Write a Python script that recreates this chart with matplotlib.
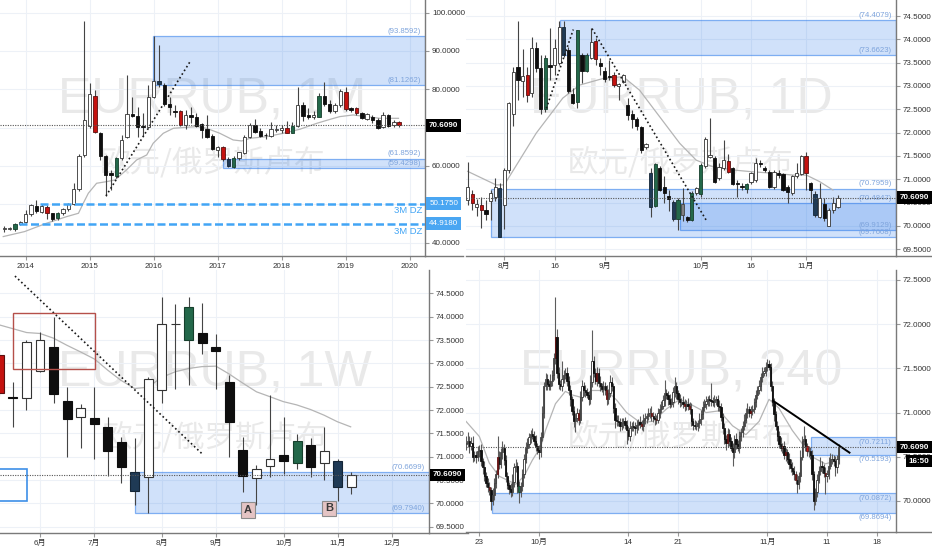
import matplotlib.pyplot as plt
from matplotlib.patches import Rectangle
from matplotlib.ticker import FormatStrFormatter

plt.rcParams['font.family'] = ['Liberation Sans', 'Noto Sans CJK SC', 'DejaVu Sans']

# ---------------- monthly (1M), k = months from Jan 2014 ----------------
m_x = list(range(-4, 71))
m_open = [43.65, 43.48, 43.48, 44.87, 45.30, 47.39, 49.48, 48.09, 49.39, 47.65,
          46.30, 47.65, 48.70, 50.09, 53.91, 62.87, 70.43, 78.35, 68.52, 62.61,
          58.09, 57.39, 62.00, 67.48, 73.57, 73.04, 70.43, 70.26, 78.09, 82.26,
          81.13, 76.17, 74.26, 74.35, 70.70, 73.30, 72.87, 70.87, 69.57, 67.83,
          64.17, 65.04, 61.74, 59.83, 62.00, 63.48, 67.48, 70.70, 69.13, 68.09,
          67.83, 69.39, 69.39, 70.00, 68.70, 70.43, 76.00, 73.30, 72.87, 72.87,
          78.35, 76.17, 74.35, 75.91, 79.39, 75.13, 75.04, 73.74, 72.35, 72.87,
          72.00, 70.26, 73.30, 70.61, 71.39]
m_high = [44.43, 44.17, 45.22, 45.56, 48.52, 50.09, 51.13, 50.09, 49.83, 47.83,
          48.00, 48.96, 50.43, 55.48, 63.13, 97.91, 81.56, 79.83, 68.96, 62.87,
          58.96, 62.43, 68.09, 83.74, 78.09, 75.48, 73.74, 81.13, 93.91, 91.57,
          81.74, 78.09, 75.91, 74.61, 74.61, 75.30, 73.74, 71.13, 73.30, 68.35,
          65.30, 65.22, 62.26, 62.61, 63.74, 68.09, 71.13, 72.17, 69.83, 68.70,
          71.57, 70.70, 70.70, 71.83, 71.57, 80.52, 76.78, 75.04, 74.35, 78.96,
          82.00, 77.22, 76.52, 80.00, 80.52, 75.48, 75.30, 74.00, 73.74, 73.30,
          72.43, 74.17, 73.48, 72.00, 71.74]
m_low = [42.87, 43.30, 43.13, 44.61, 45.04, 46.96, 47.65, 47.65, 46.09, 45.74,
         45.91, 47.22, 48.35, 49.83, 53.57, 62.43, 69.83, 68.52, 61.56, 52.17,
         53.74, 56.78, 61.56, 67.22, 72.87, 67.65, 67.83, 69.83, 77.65, 80.70,
         75.65, 73.30, 72.70, 70.43, 69.70, 71.13, 70.09, 67.22, 67.22, 64.17,
         62.43, 61.39, 59.83, 59.39, 61.56, 63.13, 67.22, 68.52, 67.48, 66.96,
         67.48, 68.96, 68.70, 68.52, 68.52, 70.09, 71.83, 72.17, 72.17, 72.70,
         75.65, 73.91, 73.91, 75.48, 74.43, 74.17, 73.30, 72.17, 72.00, 71.30,
         69.57, 69.83, 70.09, 70.26, 70.17]
m_close = [43.91, 43.74, 44.87, 45.30, 47.39, 49.83, 48.35, 49.56, 47.65, 46.17,
           47.65, 48.70, 50.09, 53.91, 62.61, 72.00, 78.70, 68.78, 62.61, 57.65,
           57.65, 62.00, 66.78, 73.57, 73.04, 70.09, 70.09, 78.09, 82.26, 81.39,
           76.17, 75.30, 74.00, 70.70, 73.30, 72.87, 70.43, 69.39, 67.65, 64.43,
           65.04, 61.74, 60.00, 62.17, 63.57, 67.48, 70.70, 68.96, 67.91, 68.00,
           69.57, 69.74, 69.83, 68.70, 70.43, 76.00, 73.04, 72.87, 73.30, 78.35,
           76.17, 74.35, 75.91, 79.57, 74.78, 74.61, 73.91, 72.52, 73.48, 72.00,
           69.83, 73.30, 70.43, 71.48, 70.609]
m_red = [4, 13, 29, 37, 49, 60, 62, 70]
m_green = [-2, 6, 17, 39, 50, 55]
m_blue = [25, 38]
m_ma_x = [-4.2, -0.2, 3.9, 7.7, 9.9, 10.8, 11.75, 13.3, 15.2, 16.75, 18.9, 20.8, 22.7, 23.9,
          25.8, 27.7, 30.2, 32.1, 33.9, 36.4, 38.9, 40.5, 42.1, 45.2, 48.3, 51.4, 54.6,
          57.1, 58.9, 61.4, 63.9, 66.4, 69.9]
m_ma_y = [41.57, 42.87, 45.04, 46.78, 47.65, 50.26, 52.87, 55.48, 55.91, 56.35, 58.96, 61.56,
          62.87, 65.91, 68.52, 69.83, 70.09, 70.26, 69.83, 68.52, 66.78, 66.52, 67.22, 67.65,
          68.52, 69.57, 71.13, 72.17, 72.87, 73.30, 72.87, 72.43, 72.43]
m_zones = [(23.94, 93.8592, 81.1262), (36.94, 61.8592, 59.4298)]
m_dz = [(2.7, 50.1750), (-1.2, 44.9180)]
m_trend = [(15.06, 52.17), (30.9, 87.39)]
m_years = ['2014', '2015', '2016', '2017', '2018', '2019', '2020']

# ---------------- daily (1D), i = trading days from Jul 22 ----------------
d_x = list(range(0, 82))
d_open = [70.56, 70.68, 70.41, 70.45, 70.34, 70.54, 70.63, 70.81, 70.45, 71.20,
          72.41, 73.41, 73.11, 73.24, 72.86, 73.82, 73.39, 72.50, 73.44, 73.45,
          73.49, 74.27, 73.77, 72.83, 72.66, 73.66, 73.33, 73.61, 73.97, 73.50,
          73.33, 73.21, 73.24, 72.99, 73.09, 72.59, 72.41, 72.29, 72.13, 71.69,
          71.13, 70.43, 71.24, 70.83, 70.64, 70.52, 70.15, 70.24, 70.19, 70.13,
          70.70, 70.68, 71.29, 71.47, 71.45, 71.02, 71.24, 71.39, 71.24, 70.93,
          70.86, 70.79, 70.95, 70.99, 71.36, 71.24, 71.16, 70.83, 71.13, 71.11,
          70.84, 70.71, 71.06, 71.11, 71.50, 70.91, 70.69, 70.20, 70.47, 70.00,
          70.34, 70.40]
d_high = [71.38, 70.76, 70.57, 70.63, 70.56, 70.77, 71.02, 70.91, 71.24, 72.66,
          73.41, 74.40, 73.79, 73.41, 74.06, 73.95, 73.66, 73.66, 74.24, 74.00,
          74.40, 74.40, 73.84, 72.95, 74.20, 73.70, 73.70, 74.24, 74.02, 73.61,
          73.41, 73.56, 73.31, 73.07, 73.26, 72.74, 72.49, 72.34, 72.14, 71.77,
          71.24, 71.36, 71.29, 71.06, 70.77, 70.56, 70.59, 70.81, 70.21, 70.74,
          70.84, 71.34, 71.90, 72.31, 71.49, 71.34, 71.84, 71.54, 71.27, 70.99,
          70.93, 70.93, 71.16, 71.45, 71.41, 71.29, 71.20, 71.20, 71.20, 71.13,
          70.88, 71.09, 71.34, 71.52, 71.59, 70.95, 70.74, 70.91, 70.59, 70.38,
          70.63, 70.66]
d_low = [70.45, 70.34, 70.21, 69.96, 70.13, 70.13, 70.54, 69.76, 69.93, 71.13,
         72.14, 72.70, 72.77, 72.66, 72.77, 73.31, 72.41, 72.45, 73.13, 73.24,
         73.45, 73.63, 72.84, 72.61, 72.52, 73.06, 73.29, 73.57, 73.45, 73.24,
         73.09, 73.13, 72.97, 72.70, 73.06, 72.27, 72.09, 72.06, 71.57, 71.64,
         70.20, 70.40, 70.74, 70.49, 70.31, 70.11, 69.91, 70.11, 70.09, 70.11,
         70.66, 70.63, 71.24, 71.45, 70.93, 70.99, 71.20, 71.14, 70.88, 70.63,
         70.76, 70.71, 70.90, 70.95, 71.27, 71.16, 70.81, 70.79, 71.02, 70.74,
         70.49, 70.66, 71.02, 71.09, 70.77, 70.49, 70.20, 70.16, 70.11, 69.99,
         70.27, 70.38]
d_close = [70.84, 70.49, 70.47, 70.34, 70.26, 70.71, 70.84, 69.76, 71.19, 72.64,
           73.31, 73.13, 73.21, 72.81, 73.82, 73.38, 72.50, 73.61, 73.41, 73.82,
           74.27, 73.66, 72.90, 72.63, 74.19, 73.33, 73.66, 73.95, 73.57, 73.43,
           73.16, 73.19, 73.02, 73.04, 73.24, 72.38, 72.29, 72.14, 71.63, 71.75,
           70.40, 71.33, 70.77, 70.71, 70.57, 70.14, 70.56, 70.47, 70.13, 70.71,
           70.81, 71.31, 71.86, 71.52, 70.95, 71.27, 71.41, 71.16, 70.90, 70.90,
           70.84, 70.90, 71.14, 71.36, 71.33, 71.19, 70.84, 71.16, 71.09, 70.77,
           70.72, 71.06, 71.13, 71.50, 71.13, 70.77, 70.24, 70.59, 70.16, 70.34,
           70.50, 70.609]
d_red = [1, 3, 13, 28, 32, 57, 74]
d_green = [17, 24, 26, 41, 46, 49, 51, 61]
d_blue = [7, 21, 40, 45, 76]
d_gray = [47]
d_ma_x = [0, 6.2, 8, 15, 20.8, 24.5, 29.6, 34, 37.6, 42, 46.4, 50, 53.6, 58, 62.4, 66.8,
          71.2, 74.1, 77, 79.9]
d_ma_y = [71.17, 70.88, 70.88, 71.99, 72.74, 73.02, 73.16, 73.20, 72.91, 72.34, 71.77,
          71.41, 71.27, 71.20, 71.16, 71.13, 71.09, 71.09, 70.95, 70.77]
d_zones = [(20.2, 74.4079, 73.6623), (5.0, 70.7959, 69.7608), (46.35, 70.4847, 69.9129)]
d_trend1 = [(17.2, 72.52), (23.1, 74.21)]
d_trend2 = [(27.2, 74.23), (52.2, 70.12)]
d_ticks = [8, 19, 30, 51, 62, 74]
d_labels = ['8月', '16', '9月', '10月', '16', '11月']

# ---------------- weekly (1W), w = weeks from Jun 3 ----------------
w_x = list(range(-3, 24))
w_open = [73.18, 72.27, 72.26, 72.84, 73.36, 72.20, 71.84, 71.83, 71.63, 71.31,
          70.67, 70.56, 72.43, 73.84, 73.50, 73.66, 73.34, 72.60, 71.14, 70.54,
          70.81, 71.03, 70.87, 71.26, 70.86, 70.91, 70.36]
w_high = [73.29, 72.59, 73.50, 73.68, 73.99, 72.49, 72.13, 72.49, 71.84, 71.43,
          71.39, 72.71, 74.43, 74.27, 74.43, 74.29, 73.63, 72.75, 71.43, 70.82,
          72.32, 71.86, 71.48, 71.39, 71.64, 70.94, 70.68]
w_low = [72.29, 71.64, 72.01, 72.82, 72.14, 70.99, 71.19, 70.94, 70.59, 70.43,
         69.96, 69.79, 72.16, 72.44, 72.54, 73.21, 72.44, 70.99, 70.24, 69.96,
         70.57, 70.63, 70.74, 70.57, 70.50, 70.04, 70.20]
w_close = [72.37, 72.25, 73.46, 73.49, 72.34, 71.80, 72.04, 71.71, 71.12, 70.78,
           70.27, 72.66, 73.84, 73.85, 74.20, 73.44, 73.26, 71.75, 70.59, 70.73,
           70.96, 70.91, 71.34, 70.77, 71.13, 70.36, 70.609]
w_red = [-3]
w_green = [11, 19]
w_blue = [7, 22]
w_ma_x = [-2.96, -0.99, 0, 0.99, 1.97, 2.96, 4.04, 4.98, 5.96, 7.0, 7.98, 9.0, 10.0, 10.99,
          11.97, 13.0, 13.99, 15.02, 16.0, 16.95, 17.98, 18.97, 20.0, 20.99, 21.97, 22.96]
w_ma_y = [73.82, 73.66, 73.64, 73.54, 73.39, 73.25, 73.09, 72.86, 72.64, 72.46, 72.49, 72.70,
          72.82, 72.89, 72.93, 72.94, 72.77, 72.57, 72.39, 72.29, 72.18, 72.11, 72.01, 71.89,
          71.75, 71.64]
w_zones = [(7.0, 70.6699, 69.7940)]
w_trend = [(-1.85, 74.87), (11.95, 71.07)]
w_red_box = (-2.02, 72.87, 4.04, 74.07)
w_blue_box = (-3.3, 70.05, -0.94, 70.73)
w_marks = [('A', 15.37, 69.86), ('B', 21.36, 69.89)]
w_ticks = [0, 4, 9, 13, 18, 22, 26]
w_labels = ['6月', '7月', '8月', '9月', '10月', '11月', '12月']

# ---------------- 4 hour (240), b = bars from Sep 23 00:00 ----------------
h_x = list(range(-8, 218))
h_first_open = 70.64
h_close = [70.66, 70.68, 70.62, 70.66, 70.50, 70.52, 70.50, 70.56,
           70.58, 70.45, 70.38, 70.28, 70.20, 70.16, 70.12, 70.00, 70.07, 70.20,
           70.30, 70.50, 70.42, 70.55, 70.60, 70.46, 70.28, 70.18, 70.14, 70.10,
           70.22, 70.38, 70.40, 70.17, 70.10, 70.17, 70.30, 70.48, 70.60, 70.65,
           70.72, 70.76, 70.74, 70.68, 70.62, 70.58, 70.55, 70.72, 71.00, 71.30,
           71.38, 71.32, 71.30, 71.36, 71.42, 71.62, 71.86, 71.45, 71.32, 71.30,
           71.38, 71.42, 71.45, 71.36, 71.25, 71.15, 71.02, 70.90, 70.94, 71.00,
           70.92, 71.18, 71.30, 71.25, 71.23, 71.20, 71.15, 71.35, 71.58, 71.45,
           71.36, 71.45, 71.34, 71.30, 71.27, 71.30, 71.25, 71.15, 71.22, 71.35,
           71.30, 71.05, 70.92, 70.90, 70.89, 70.85, 70.88, 70.90, 70.86, 70.80,
           70.74, 70.83, 70.85, 70.84, 70.82, 70.86, 70.89, 70.87, 70.85, 70.92,
           70.94, 70.96, 70.99, 71.00, 70.96, 70.94, 70.93, 70.92, 71.00, 71.04,
           71.08, 71.14, 71.22, 71.20, 71.15, 71.10, 71.12, 71.23, 71.30, 71.22,
           71.15, 71.12, 71.12, 71.10, 71.08, 71.10, 71.07, 71.04, 70.90, 70.86,
           70.85, 70.85, 70.88, 70.93, 70.98, 71.06, 71.10, 71.13, 71.15, 71.14,
           71.13, 71.12, 71.14, 71.15, 71.08, 71.06, 70.95, 70.82, 70.70, 70.66,
           70.76, 70.68, 70.60, 70.55, 70.70, 70.64, 70.60, 70.73, 70.78, 70.85,
           70.92, 71.00, 71.04, 71.00, 71.02, 71.04, 71.12, 71.20, 71.25, 71.30,
           71.40, 71.45, 71.47, 71.52, 71.55, 71.52, 71.30, 71.12, 70.98, 70.85,
           70.74, 70.65, 70.60, 70.62, 70.52, 70.55, 70.48, 70.42, 70.37, 70.34,
           70.30, 70.24, 70.19, 70.28, 70.50, 70.68, 70.70, 70.62, 70.56, 70.56,
           70.52, 70.30, 70.00, 70.10, 70.24, 70.34, 70.40, 70.38, 70.32, 70.28,
           70.30, 70.40, 70.48, 70.48, 70.45, 70.38, 70.47, 70.609]
h_wick_up = [.08, .10, .05, .06, .07, .05, .04, .06,
             .05, .06, .04, .07, .05, .06, .05, .04, .08, .06,
             .05, .23, .06, .05, .08, .04, .06, .05, .04, .06,
             .08, .05, .07, .04, .06, .05, .06, .05, .07, .06,
             .05, .04, .06, .05, .07, .04, .05, .06, .08, .05,
             .07, .06, .05, .08, .06, .05, .45, .08, .06, .05,
             .20, .06, .05, .07, .05, .06, .04, .05, .06, .05,
             .04, .06, .07, .05, .06, .05, .04, .08, .35, .06,
             .05, .06, .05, .07, .04, .06, .05, .06, .05, .07,
             .05, .04, .06, .05, .07, .05, .06, .04, .05, .06,
             .05, .07, .04, .06, .05, .06, .04, .07, .05, .06,
             .05, .04, .06, .05, .07, .05, .06, .04, .05, .06,
             .05, .06, .15, .05, .04, .06, .05, .06, .10, .05,
             .04, .06, .05, .07, .05, .04, .06, .05, .07, .04,
             .06, .05, .04, .06, .05, .07, .05, .06, .04, .05,
             .20, .05, .06, .04, .05, .06, .05, .04, .06, .05,
             .07, .05, .04, .06, .05, .07, .05, .06, .04, .05,
             .06, .05, .07, .04, .06, .05, .04, .06, .05, .07,
             .05, .06, .04, .05, .06, .05, .04, .06, .05, .04,
             .06, .05, .07, .04, .06, .05, .04, .06, .05, .07,
             .05, .04, .06, .05, .08, .06, .15, .05, .04, .06,
             .05, .06, .04, .05, .07, .06, .10, .05, .04, .06,
             .05, .10, .06, .05, .04, .06, .05, .04]
h_wick_dn = [.06, .05, .08, .04, .06, .05, .07, .05,
             .06, .05, .07, .05, .04, .06, .05, .10, .05, .06,
             .05, .04, .06, .05, .07, .05, .06, .04, .06, .05,
             .04, .06, .05, .08, .12, .05, .06, .04, .05, .06,
             .05, .06, .04, .05, .06, .05, .07, .05, .04, .06,
             .05, .06, .04, .05, .06, .05, .07, .06, .05, .04,
             .06, .05, .04, .06, .05, .07, .05, .06, .12, .05,
             .06, .04, .05, .06, .05, .04, .06, .05, .06, .05,
             .04, .06, .05, .06, .04, .07, .05, .06, .05, .04,
             .06, .05, .10, .05, .04, .06, .05, .06, .05, .15,
             .05, .06, .04, .05, .07, .05, .06, .04, .05, .06,
             .05, .06, .04, .05, .06, .05, .07, .05, .04, .06,
             .05, .04, .06, .05, .06, .05, .04, .06, .05, .07,
             .05, .06, .04, .05, .06, .05, .04, .06, .05, .06,
             .04, .05, .06, .05, .07, .05, .04, .06, .05, .06,
             .05, .04, .06, .05, .06, .04, .05, .06, .05, .08,
             .05, .06, .04, .15, .06, .05, .04, .06, .05, .06,
             .05, .04, .06, .05, .06, .05, .04, .06, .05, .04,
             .06, .05, .04, .06, .05, .04, .06, .05, .07, .05,
             .06, .05, .04, .06, .05, .07, .05, .06, .04, .05,
             .06, .05, .10, .05, .06, .04, .05, .06, .05, .06,
             .05, .06, .10, .05, .06, .04, .05, .06, .05, .20,
             .06, .05, .04, .06, .05, .10, .06, .05]
h_red = [6, 11, 46, 60, 71, 77, 98, 104, 107, 124, 127, 150, 164, 183, 185, 191, 198, 209]
h_green = [24]
h_ma_x = [-8, 0, 6, 12, 22, 27, 32, 37, 40, 43, 46, 49, 52, 56, 62, 68, 77, 83, 89, 97, 105,
          113, 121, 129, 137, 145, 153, 161, 169, 175, 181, 189, 195, 201, 209, 215]
h_ma_y = [70.90, 70.73, 70.43, 70.28, 70.19, 70.28, 70.46, 70.61, 70.80, 70.95, 71.10, 71.17,
          71.24, 71.20, 71.17, 71.25, 71.25, 71.14, 71.00, 70.89, 70.90, 71.04, 71.15, 71.08,
          71.00, 71.02, 70.85, 70.75, 70.90, 71.15, 71.05, 70.80, 70.65, 70.50, 70.42, 70.45]
h_zones = [(7.7, 70.0872, 69.8694), (200.4, 70.7211, 70.5193)]
h_trend = [(177.3, 71.135), (223.6, 70.547)]
h_ticks = [0, 36, 90, 120, 174, 210, 240]
h_labels = ['23', '10月', '14', '21', '11月', '11', '18']

last_price = 70.609

AXIS_COL = '#7a7a7a'
ZONE_FC = (0.16, 0.47, 0.92, 0.22)
ZONE_EC = (0.16, 0.47, 0.92, 0.55)
ZONE_TXT = '#7ea4dc'
TICK_FS = 5.8
BOX_FS = 5.8


def draw_candles(ax, xs, o, h, l, c, red=(), green=(), blue=(), gray=(),
                 width=0.7, wick='#444444', wick_lw=0.8, body_lw=0.7):
    ax.vlines(xs, l, h, colors=wick, lw=wick_lw, zorder=3)
    for x, oo, cc in zip(xs, o, c):
        if x in red:
            fc, ec = '#c4120f', '#5a1010'
        elif x in green:
            fc, ec = '#23684a', '#163f2c'
        elif x in blue:
            fc, ec = '#1f3a55', '#142536'
        elif x in gray:
            fc, ec = '#808080', '#444444'
        elif cc >= oo:
            fc, ec = 'white', '#333333'
        else:
            fc, ec = '#0e0e0e', '#0e0e0e'
        ax.bar(x, abs(cc - oo), width, bottom=min(oo, cc), color=fc,
               edgecolor=ec, linewidth=body_lw, zorder=4)


def style_axes(ax, xlim, ylim, yticks, xticks, xlabels):
    ax.set_xlim(*xlim)
    ax.set_ylim(*ylim)
    ax.yaxis.tick_right()
    ax.set_yticks(yticks)
    ax.yaxis.set_major_formatter(FormatStrFormatter('%.4f'))
    ax.set_xticks(xticks)
    ax.set_xticklabels(xlabels)
    ax.tick_params(axis='both', labelsize=TICK_FS, colors='#999999', labelcolor='#333333',
                   length=3, width=0.8, pad=2)
    for s in ['left', 'top']:
        ax.spines[s].set_visible(False)
    for s in ['right', 'bottom']:
        ax.spines[s].set_color(AXIS_COL)
        ax.spines[s].set_linewidth(1.0)
    ax.grid(True, color='#edf1f7', lw=0.8)
    ax.set_axisbelow(True)
    ax.plot([1, 1.09], [0, 0], transform=ax.transAxes, clip_on=False, color=AXIS_COL, lw=1)


def watermark(ax, name):
    ax.text(0.5, 0.61, name, transform=ax.transAxes, ha='center', va='center',
            fontsize=36, color='#e9e9e9', zorder=0)
    ax.text(0.5, 0.36, '欧元/俄罗斯卢布', transform=ax.transAxes, ha='center', va='center',
            fontsize=22, color='#e9e9e9', family=['Noto Sans CJK SC'], zorder=0)


def zones(ax, zone_list, xmax, above=True):
    for x0, top, bot in zone_list:
        ax.add_patch(Rectangle((x0, bot), xmax - x0, top - bot, fc=ZONE_FC, ec=ZONE_EC,
                               lw=0.9, zorder=2))
        for v in (top, bot):
            ax.annotate('(%.4f)' % v, xy=(1, v), xycoords=ax.get_yaxis_transform(),
                        xytext=(-3, 1 if above else -1), textcoords='offset points',
                        ha='right', va='bottom' if above else 'top',
                        fontsize=5.6, color=ZONE_TXT, zorder=5)


def price_line(ax):
    ax.axhline(last_price, color='#555555', ls=(0, (1, 1.2)), lw=0.8, zorder=5)
    ax.annotate('70.6090', xy=(1, last_price), xycoords=ax.get_yaxis_transform(),
                xytext=(3, 0), textcoords='offset points', ha='left', va='center',
                fontsize=BOX_FS, color='white', fontweight='bold', zorder=6,
                annotation_clip=False,
                bbox=dict(boxstyle='square,pad=0.35', fc='black', ec='none'))


fig = plt.figure(figsize=(9.32, 5.5), dpi=100)

# ---- top left: monthly ----
ax1 = fig.add_axes([0, 0.53455, 0.45601, 0.46545])
m_xlim = (-4.81, 74.87)
style_axes(ax1, m_xlim, (36.5, 103.3), [40, 50, 60, 70, 80, 90, 100],
           [0, 12, 24, 36, 48, 60, 72], m_years)
watermark(ax1, 'EURRUB, 1M')
zones(ax1, m_zones, m_xlim[1])
ax1.plot(m_ma_x, m_ma_y, color='#b5b5b5', lw=0.9, zorder=2.5)
draw_candles(ax1, m_x, m_open, m_high, m_low, m_close, m_red, m_green, m_blue,
             width=0.68, body_lw=0.6)
ax1.plot([p[0] for p in m_trend], [p[1] for p in m_trend], color='#1a1a1a',
         ls=(0, (1, 1.6)), lw=1.2, zorder=5)
for x0, v in m_dz:
    ax1.plot([x0, m_xlim[1]], [v, v], color='#42a5f5', ls=(0, (3.2, 1.4)), lw=1.8, zorder=5)
    ax1.annotate('3M DZ', xy=(1, v), xycoords=ax1.get_yaxis_transform(),
                 xytext=(-2, -2), textcoords='offset points', ha='right', va='top',
                 fontsize=6.8, color='#42a5f5', zorder=6)
    ax1.annotate('%.4f' % v, xy=(1, v), xycoords=ax1.get_yaxis_transform(),
                 xytext=(3, 0), textcoords='offset points', ha='left', va='center',
                 fontsize=BOX_FS, color='white', zorder=6, annotation_clip=False,
                 bbox=dict(boxstyle='square,pad=0.35', fc='#4aa6f2', ec='none'))
price_line(ax1)

# ---- top right: daily ----
ax2 = fig.add_axes([0.5, 0.53455, 0.46137, 0.46545])
d_xlim = (-0.37, 93.7)
style_axes(ax2, d_xlim, (69.356, 74.843), [69.5 + 0.5 * n for n in range(11)],
           d_ticks, d_labels)
watermark(ax2, 'EURRUB, 1D')
zones(ax2, d_zones, d_xlim[1])
ax2.plot(d_ma_x, d_ma_y, color='#b5b5b5', lw=0.9, zorder=2.5)
draw_candles(ax2, d_x, d_open, d_high, d_low, d_close, d_red, d_green, d_blue, d_gray,
             width=0.7, body_lw=0.6)
for tl in (d_trend1, d_trend2):
    ax2.plot([p[0] for p in tl], [p[1] for p in tl], color='#1a1a1a',
             ls=(0, (1, 1.6)), lw=1.2, zorder=5)
price_line(ax2)

# ---- bottom left: weekly ----
ax3 = fig.add_axes([0, 0.03091, 0.46030, 0.47818])
w_xlim = (-2.956, 28.75)
style_axes(ax3, w_xlim, (69.365, 75.0), [69.5 + 0.5 * n for n in range(11)],
           w_ticks, w_labels)
watermark(ax3, 'EURRUB, 1W')
zones(ax3, w_zones, w_xlim[1])
ax3.plot(w_ma_x, w_ma_y, color='#b5b5b5', lw=0.9, zorder=2.5)
draw_candles(ax3, w_x, w_open, w_high, w_low, w_close, w_red, w_green, w_blue,
             width=0.66, body_lw=0.8)
ax3.plot([p[0] for p in w_trend], [p[1] for p in w_trend], color='#1a1a1a',
         ls=(0, (1, 1.6)), lw=1.2, zorder=5)
x0, y0, x1, y1 = w_red_box
ax3.add_patch(Rectangle((x0, y0), x1 - x0, y1 - y0, fill=False, ec='#b5504a', lw=1.0, zorder=5))
x0, y0, x1, y1 = w_blue_box
ax3.add_patch(Rectangle((x0, y0), x1 - x0, y1 - y0, fill=False, ec='#3d8fe8', lw=1.2, zorder=5))
for lab, x, v in w_marks:
    ax3.text(x, v, lab, ha='center', va='center', fontsize=8, fontweight='bold',
             color='#3a3a3a', zorder=6,
             bbox=dict(boxstyle='square,pad=0.25', fc='#e4c4c4', ec='#8c8c8c', lw=0.8))
price_line(ax3)

# ---- bottom right: 4 hour ----
ax4 = fig.add_axes([0.5, 0.03273, 0.46137, 0.47636])
h_xlim = (-8.04, 251.7)
style_axes(ax4, h_xlim, (69.649, 72.613), [70.0, 70.5, 71.0, 71.5, 72.0, 72.5],
           h_ticks, h_labels)
watermark(ax4, 'EURRUB, 240')
zones(ax4, h_zones, h_xlim[1], above=False)
ax4.plot(h_ma_x, h_ma_y, color='#b5b5b5', lw=0.9, zorder=2.5)
h_open = [h_first_open] + h_close[:-1]
h_high = [max(o, c) + u for o, c, u in zip(h_open, h_close, h_wick_up)]
h_low = [min(o, c) - d for o, c, d in zip(h_open, h_close, h_wick_dn)]
draw_candles(ax4, h_x, h_open, h_high, h_low, h_close, h_red, h_green,
             width=0.75, wick='#5c5c5c', wick_lw=0.8, body_lw=0.6)
ax4.plot([p[0] for p in h_trend], [p[1] for p in h_trend], color='black', lw=1.4, zorder=5)
price_line(ax4)
ax4.annotate('16:50', xy=(1, last_price), xycoords=ax4.get_yaxis_transform(),
             xytext=(9, -10), textcoords='offset points', ha='left', va='center',
             fontsize=BOX_FS, color='white', fontweight='bold', zorder=6, annotation_clip=False,
             bbox=dict(boxstyle='square,pad=0.35', fc='black', ec='none'))

plt.savefig('out.png', dpi=100)
